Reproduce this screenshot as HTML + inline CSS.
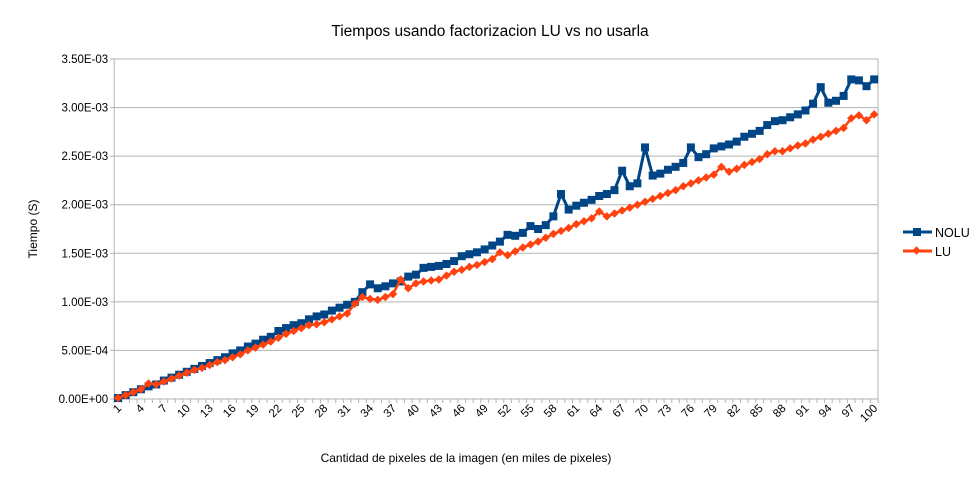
<!DOCTYPE html>
<html><head><meta charset="utf-8"><style>
html,body{margin:0;padding:0;background:#fff;}
svg{display:block;font-family:"Liberation Sans",sans-serif;}
</style></head><body>
<svg id="chart" width="976" height="478" viewBox="0 0 976 478" xmlns="http://www.w3.org/2000/svg">
<text x="490" y="36" font-size="15.5" text-anchor="middle" fill="#000">Tiempos usando factorizacion LU vs no usarla</text>
<text x="0" y="0" font-size="12" text-anchor="middle" transform="translate(37,229) rotate(-90)">Tiempo (S)</text>
<text x="466" y="462" font-size="12" text-anchor="middle">Cantidad de pixeles de la imagen (en miles de pixeles)</text>
<g id="grid"></g>
<g id="xaxis"></g>
<g id="yaxis"></g>
<g id="series"></g>
<g>
  <g>
    <line x1="903" y1="232" x2="932" y2="232" stroke="#004586" stroke-width="3"/>
    <rect x="913" y="228" width="8" height="8" fill="#004586"/>
    <text x="935" y="237" font-size="12.5">NOLU</text>
  </g>
  <g>
    <line x1="903" y1="251" x2="932" y2="251" stroke="#ff420e" stroke-width="3"/>
    <rect x="913.5" y="247.5" width="6" height="6" fill="#ff420e" transform="rotate(45 916.5 250.5)"/>
    <text x="935" y="256" font-size="12.5">LU</text>
  </g>
</g>
</svg>
<script>
const categories = Array.from({length:100},(_,i)=>String(i+1));
const noluValues = [0.1,0.4,0.7,1.0,1.3,1.5,1.9,2.2,2.5,2.8,
3.1,3.4,3.7,4.0,4.3,4.7,5.0,5.4,5.7,6.1,
6.4,7.0,7.3,7.6,7.8,8.2,8.5,8.7,9.1,9.4,
9.7,10.0,11.0,11.8,11.4,11.6,11.9,12.1,12.6,12.8,
13.5,13.6,13.7,13.9,14.2,14.7,14.9,15.1,15.4,15.8,
16.2,16.9,16.8,17.1,17.8,17.5,17.9,18.8,21.1,19.5,
19.9,20.2,20.5,20.9,21.1,21.5,23.5,21.9,22.2,25.9,
23.0,23.2,23.6,23.9,24.3,25.9,24.9,25.2,25.8,26.0,
26.2,26.5,27.0,27.3,27.6,28.2,28.6,28.7,29.0,29.3,
29.7,30.4,32.1,30.5,30.7,31.2,32.9,32.8,32.2,32.9];
const luValues = [0.1,0.4,0.7,1.0,1.6,1.5,1.8,2.1,2.4,2.7,
3.0,3.2,3.5,3.8,4.0,4.3,4.6,5.0,5.3,5.6,
5.9,6.3,6.7,7.0,7.3,7.6,7.7,7.9,8.2,8.5,
8.8,9.8,10.5,10.3,10.2,10.5,10.8,12.3,11.4,11.9,
12.1,12.2,12.3,12.7,13.1,13.3,13.6,13.8,14.1,14.4,
15.1,14.8,15.2,15.6,15.9,16.2,16.6,17.0,17.3,17.6,
18.0,18.3,18.6,19.3,18.8,19.1,19.4,19.7,20.0,20.3,
20.6,20.9,21.2,21.5,21.9,22.2,22.5,22.8,23.1,23.9,
23.4,23.7,24.1,24.4,24.7,25.2,25.5,25.5,25.8,26.1,
26.3,26.7,27.0,27.3,27.6,27.9,28.9,29.2,28.7,29.3];
const yTickValues = [0,5,10,15,20,25,30,35];
const yTickLabels = ["0.00E+00","5.00E-04","1.00E-03","1.50E-03","2.00E-03","2.50E-03","3.00E-03","3.50E-03"];

const NS="http://www.w3.org/2000/svg";
const L=114.2, R=878, T=59, B=399, YMAX=35;
const step=(R-L)/categories.length;
const xPos=i=>L+step*(i+0.5);
const yPos=v=>B-(v/YMAX)*(B-T);
function mk(tag,attrs,parent){const e=document.createElementNS(NS,tag);for(const k in attrs)e.setAttribute(k,attrs[k]);parent.appendChild(e);return e;}
const grid=document.getElementById('grid'),xa=document.getElementById('xaxis'),ya=document.getElementById('yaxis'),ser=document.getElementById('series');
yTickValues.forEach((v,k)=>{
  const y=yPos(v);
  const g=mk('line',{x1:L-4,x2:R,y1:y,y2:y,stroke:'#b3b3b3','stroke-width':1},grid);
  
  
  const t=mk('text',{x:L-6,y:y+4,'font-size':11.5,'text-anchor':'end'},ya);
  t.textContent=yTickLabels[k];
  
  
});
mk('line',{x1:L,x2:L,y1:T,y2:B+4,stroke:'#b3b3b3'},xa);
mk('line',{x1:R,x2:R,y1:T,y2:B,stroke:'#b3b3b3'},xa);
for(let i=0;i<=categories.length;i++){const x=L+step*i;mk('line',{x1:x,x2:x,y1:B,y2:B+4,stroke:'#b3b3b3'},xa);}
categories.forEach((c,i)=>{
  if(i%3!==0 && i!==categories.length-1) return;
  const x=xPos(i);
  const t=mk('text',{x:0,y:0,'font-size':11.5,'text-anchor':'end',transform:`translate(${x+4},${B+10}) rotate(-45)`},xa);
  t.textContent=c;
  
  
});
function drawSeries(vals,color,w,shape,name){
  const g=mk('g',{},ser);
  
  
  const pts=vals.map((v,i)=>xPos(i).toFixed(1)+','+yPos(v).toFixed(1)).join(' ');
  mk('polyline',{points:pts,fill:'none',stroke:color,'stroke-width':w,'stroke-linejoin':'round'},g);
  vals.forEach((v,i)=>{
    const x=xPos(i),y=yPos(v);let m;
    if(shape==='sq') m=mk('rect',{x:x-4,y:y-4,width:8,height:8,fill:color},g);
    else m=mk('rect',{x:x-3,y:y-3,width:6,height:6,fill:color,transform:`rotate(45 ${x} ${y})`},g);
    
    
  });
}
drawSeries(noluValues,'#004586',3,'sq','series-nolu');
drawSeries(luValues,'#ff420e',2.5,'di','series-lu');
</script>
</body></html>
